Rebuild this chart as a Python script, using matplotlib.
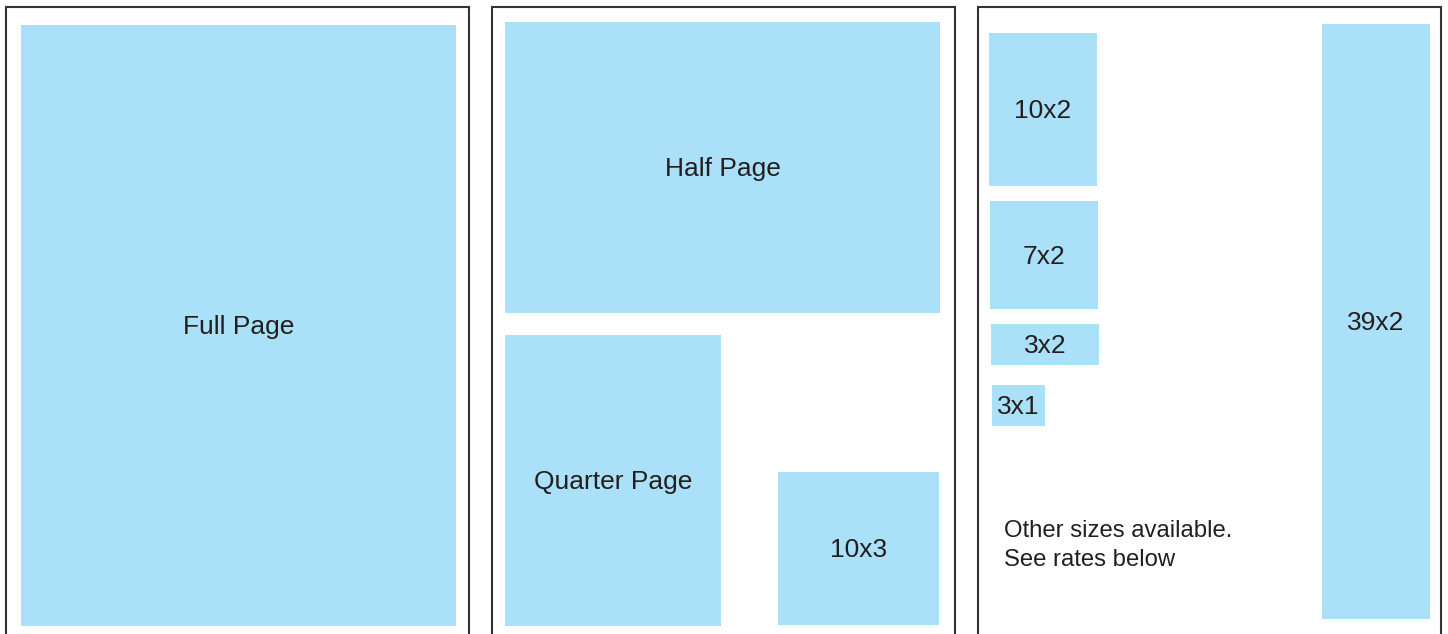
import matplotlib
matplotlib.use('Agg')
from matplotlib import pyplot as plt
from matplotlib.patches import Rectangle

# panel frames (left, right) in pixel units, top edge shared
panel_left = [6, 492, 978]
panel_right = [469, 955, 1441]
panel_top = 7

# ad boxes: label, x0, y0, x1, y1 (pixel units, y downward)
box_labels = ['Full Page', 'Half Page', 'Quarter Page', '10x3',
              '10x2', '7x2', '3x2', '3x1', '39x2']
box_x0 = [21, 505, 505, 778, 989, 990, 991, 992, 1322]
box_y0 = [25, 22, 335, 472, 33, 201, 324, 385, 24]
box_x1 = [456, 940, 721, 939, 1097, 1098, 1099, 1045, 1430]
box_y1 = [626, 313, 626, 625, 186, 309, 365, 426, 619]

note_lines = ['Other sizes available.', 'See rates below']

W, H = 1448, 634
fig = plt.figure(figsize=(W / 100, H / 100), dpi=100)
ax = fig.add_axes([0, 0, 1, 1])
ax.set_xlim(0, W)
ax.set_ylim(H, 0)
ax.axis('off')

fill = '#aae0f8'
ink = '#231f20'
font = 'Liberation Sans'

for l, r in zip(panel_left, panel_right):
    ax.plot([l, l, r, r], [H + 10, panel_top, panel_top, H + 10],
            color='#333333', linewidth=1.5, solid_joinstyle='miter')

for lab, x0, y0, x1, y1 in zip(box_labels, box_x0, box_y0, box_x1, box_y1):
    ax.add_patch(Rectangle((x0, y0), x1 - x0, y1 - y0, facecolor=fill, edgecolor='none'))
    ax.text((x0 + x1) / 2, (y0 + y1) / 2 + 1.5, lab, ha='center', va='center',
            fontsize=19, color=ink, family=font)

ax.text(1004, 531, note_lines[0], ha='left', va='center', fontsize=17.2, color=ink, family=font)
ax.text(1004, 560, note_lines[1], ha='left', va='center', fontsize=17.2, color=ink, family=font)

fig.savefig('out.png', dpi=100)
plt.close()
